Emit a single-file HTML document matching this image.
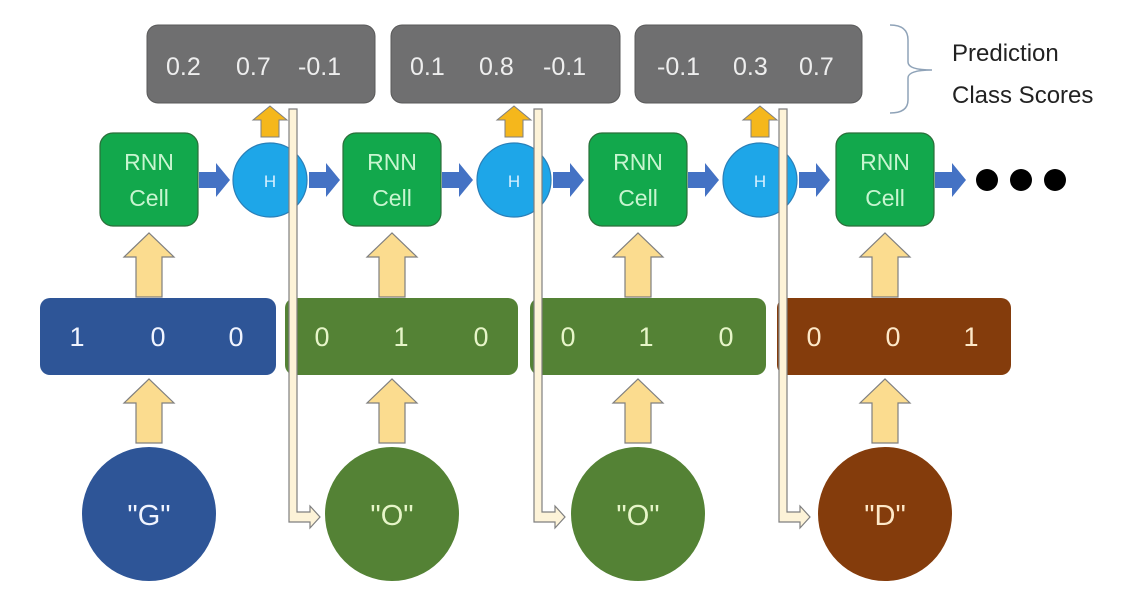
<!DOCTYPE html>
<html><head><meta charset="utf-8"><style>
html,body{margin:0;padding:0;background:#fff;}
svg{display:block;}
text{font-family:"Liberation Sans",sans-serif;}
</style></head><body>
<svg width="1128" height="593" viewBox="0 0 1128 593" xmlns="http://www.w3.org/2000/svg">
<defs>
<g id="up"><path d="M-13,0 L-13,-40 L-25,-40 L0,-64 L25,-40 L13,-40 L13,0 Z" fill="#fbdc8f" stroke="#7f7f7f" stroke-width="1.2"/></g>
<g id="blue"><path d="M0,-8 L17,-8 L17,-17 L31,0 L17,17 L17,8 L0,8 Z" fill="#4472c4"/></g>
<g id="orange"><path d="M-9,14 L-9,-3 L-17,-3 L0,-17 L17,-3 L9,-3 L9,14 Z" fill="#f5b71c" stroke="#7f7f7f" stroke-width="1"/></g>
</defs>
<g fill="#6f6f70" stroke="#5a5a5a" stroke-width="1">
<rect x="147" y="25" width="228" height="78" rx="11"/>
<rect x="391" y="25" width="229" height="78" rx="11"/>
<rect x="635" y="25" width="227" height="78" rx="11"/>
</g>
<g fill="#eeeeee" font-size="25">
<text x="166" y="75">0.2</text><text x="236" y="75">0.7</text><text x="298" y="75">-0.1</text>
<text x="410" y="75">0.1</text><text x="479" y="75">0.8</text><text x="543" y="75">-0.1</text>
<text x="657" y="75">-0.1</text><text x="733" y="75">0.3</text><text x="799" y="75">0.7</text>
</g>
<path d="M890,25 Q908,25 908,40 L908,62 Q908,70 932,70 Q908,70 908,78 L908,100 Q908,113 890,113" fill="none" stroke="#8fa3b8" stroke-width="1.5"/>
<text x="952" y="61" font-size="24" fill="#222">Prediction</text>
<text x="952" y="103" font-size="24" fill="#222">Class Scores</text>
<use href="#orange" x="270" y="123"/>
<use href="#orange" x="514" y="123"/>
<use href="#orange" x="760" y="123"/>
<g fill="#12a84c" stroke="#2b6e3a" stroke-width="1.2">
<rect x="100" y="133" width="98" height="93" rx="13"/>
<rect x="343" y="133" width="98" height="93" rx="13"/>
<rect x="589" y="133" width="98" height="93" rx="13"/>
<rect x="836" y="133" width="98" height="93" rx="13"/>
</g>
<g fill="#c8f5d0" font-size="23" text-anchor="middle">
<text x="149" y="170">RNN</text><text x="149" y="206">Cell</text>
<text x="392" y="170">RNN</text><text x="392" y="206">Cell</text>
<text x="638" y="170">RNN</text><text x="638" y="206">Cell</text>
<text x="885" y="170">RNN</text><text x="885" y="206">Cell</text>
</g>
<g fill="#1ea6e8" stroke="#2a7fb8" stroke-width="1.2">
<circle cx="270" cy="180" r="37"/><circle cx="514" cy="180" r="37"/><circle cx="760" cy="180" r="37"/>
</g>
<g fill="#d8f0ff" font-size="17" text-anchor="middle">
<text x="270" y="187">H</text><text x="514" y="187">H</text><text x="760" y="187">H</text>
</g>
<use href="#blue" x="199" y="180"/><use href="#blue" x="309" y="180"/>
<use href="#blue" x="442" y="180"/><use href="#blue" x="553" y="180"/>
<use href="#blue" x="688" y="180"/><use href="#blue" x="799" y="180"/>
<use href="#blue" x="935" y="180"/>
<g fill="#000"><circle cx="987" cy="180" r="11"/><circle cx="1021" cy="180" r="11"/><circle cx="1055" cy="180" r="11"/></g>
<use href="#up" x="149" y="297"/><use href="#up" x="392" y="297"/><use href="#up" x="638" y="297"/><use href="#up" x="885" y="297"/>
<use href="#up" x="149" y="443"/><use href="#up" x="392" y="443"/><use href="#up" x="638" y="443"/><use href="#up" x="885" y="443"/>
<rect x="40" y="298" width="236" height="77" rx="10" fill="#2e5597"/>
<rect x="285" y="298" width="233" height="77" rx="10" fill="#548235"/>
<rect x="530" y="298" width="236" height="77" rx="10" fill="#548235"/>
<rect x="777" y="298" width="234" height="77" rx="10" fill="#843c0c"/>
<g font-size="27" text-anchor="middle">
<g fill="#f0f4ff"><text x="77" y="346">1</text><text x="158" y="346">0</text><text x="236" y="346">0</text></g>
<g fill="#e6f5c8"><text x="322" y="346">0</text><text x="401" y="346">1</text><text x="481" y="346">0</text>
<text x="568" y="346">0</text><text x="646" y="346">1</text><text x="726" y="346">0</text></g>
<g fill="#fde8c8"><text x="814" y="346">0</text><text x="893" y="346">0</text><text x="971" y="346">1</text></g>
</g>
<g fill="#fdf3d8" stroke="#7f7f7f" stroke-width="1.2">
<path d="M289,109 L297,109 L297,512 L310,512 L310,506 L320,517 L310,528 L310,522 L289,522 Z"/>
<path d="M534,109 L542,109 L542,512 L555,512 L555,506 L565,517 L555,528 L555,522 L534,522 Z"/>
<path d="M779,109 L787,109 L787,512 L800,512 L800,506 L810,517 L800,528 L800,522 L779,522 Z"/>
</g>
<circle cx="149" cy="514" r="67" fill="#2e5597"/>
<circle cx="392" cy="514" r="67" fill="#548235"/>
<circle cx="638" cy="514" r="67" fill="#548235"/>
<circle cx="885" cy="514" r="67" fill="#843c0c"/>
<g font-size="29" text-anchor="middle">
<text x="149" y="525" fill="#f0f4ff">"G"</text>
<text x="392" y="525" fill="#e6f5c8">"O"</text>
<text x="638" y="525" fill="#e6f5c8">"O"</text>
<text x="885" y="525" fill="#fde8c8">"D"</text>
</g>
</svg>
</body></html>
